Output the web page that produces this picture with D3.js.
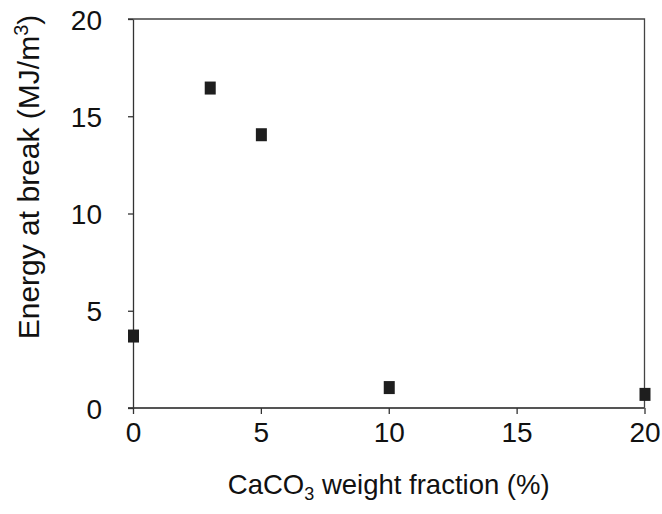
<!DOCTYPE html>
<html>
<head>
<meta charset="utf-8">
<script src="https://cdn.jsdelivr.net/npm/d3@7"></script>
<style>
  body { margin: 0; background: #fff; }
  text { font-family: "Liberation Sans", Arial, sans-serif; fill: #111; }
</style>
</head>
<body>
<script>
// CaCO3 content (%) and energy at break (MJ/m3)
var fractions = [0, 3, 5, 10, 20];
var energies = [3.7, 16.45, 14.05, 1.05, 0.7];
var xTicks = [0, 5, 10, 15, 20];
var yTicks = [0, 5, 10, 15, 20];

var width = 662, height = 514;
var margin = {top: 19, right: 18, bottom: 106, left: 133};

var svg = d3.select("body").append("svg")
  .attr("width", width)
  .attr("height", height);

var x = d3.scaleLinear()
  .domain([0, 20])
  .range([margin.left, width - margin.right + 0.5]);

var y = d3.scaleLinear()
  .domain([0, 20])
  .range([height - margin.bottom, margin.top]);

// frame: top and right edges
svg.append("path")
  .attr("d", "M" + (x(0) - 5) + "," + y(20) + "H" + x(20) + "V" + y(0))
  .attr("fill", "none")
  .attr("stroke", "#444")
  .attr("stroke-width", 1.3);

var xAxis = svg.append("g")
  .attr("transform", "translate(0," + y(0) + ")")
  .call(d3.axisBottom(x).tickValues(xTicks).tickSize(6).tickPadding(8).tickSizeOuter(0));

var yAxis = svg.append("g")
  .attr("transform", "translate(" + x(0) + ",0)")
  .call(d3.axisLeft(y).tickValues(yTicks).tickSize(5).tickPadding(26).tickSizeOuter(0));

xAxis.select(".domain")
  .attr("d", "M" + (x(0) - 5) + ",0H" + x(20))
  .attr("stroke", "#555").attr("stroke-width", 2);
yAxis.select(".domain").attr("stroke", "#333").attr("stroke-width", 1.3);
svg.selectAll(".tick line").attr("stroke", "#333").attr("stroke-width", 1.3);
svg.selectAll(".tick text")
  .attr("font-size", 28)
  .style("font-family", "'Liberation Sans', Arial, sans-serif")
  .attr("fill", "#111");
yAxis.selectAll(".tick text").attr("dy", "0.36em");

// markers
svg.append("g").selectAll("rect")
  .data(fractions)
  .enter().append("rect")
  .attr("x", function(d) { return x(d) - 5; })
  .attr("y", function(d, i) { return y(energies[i]) - 6.5; })
  .attr("width", 11)
  .attr("height", 13)
  .attr("fill", "#1e1e1e");

// axis titles
var yt = svg.append("text")
  .attr("transform", "translate(39," + 177 + ") rotate(-90)")
  .attr("text-anchor", "middle")
  .attr("font-size", 30);
yt.append("tspan").text("Energy at break (MJ/m");
yt.append("tspan").attr("font-size", 20).attr("dy", "-0.55em").text("3");
yt.append("tspan").attr("dy", "0.35em").text(")");

var xt = svg.append("text")
  .attr("x", x(10))
  .attr("y", 494)
  .attr("text-anchor", "middle")
  .attr("font-size", 27.5);
xt.append("tspan").text("CaCO");
xt.append("tspan").attr("font-size", 18).attr("dy", "0.35em").text("3");
xt.append("tspan").attr("dy", "-0.23em").text(" weight fraction (%)");
</script>
</body>
</html>
